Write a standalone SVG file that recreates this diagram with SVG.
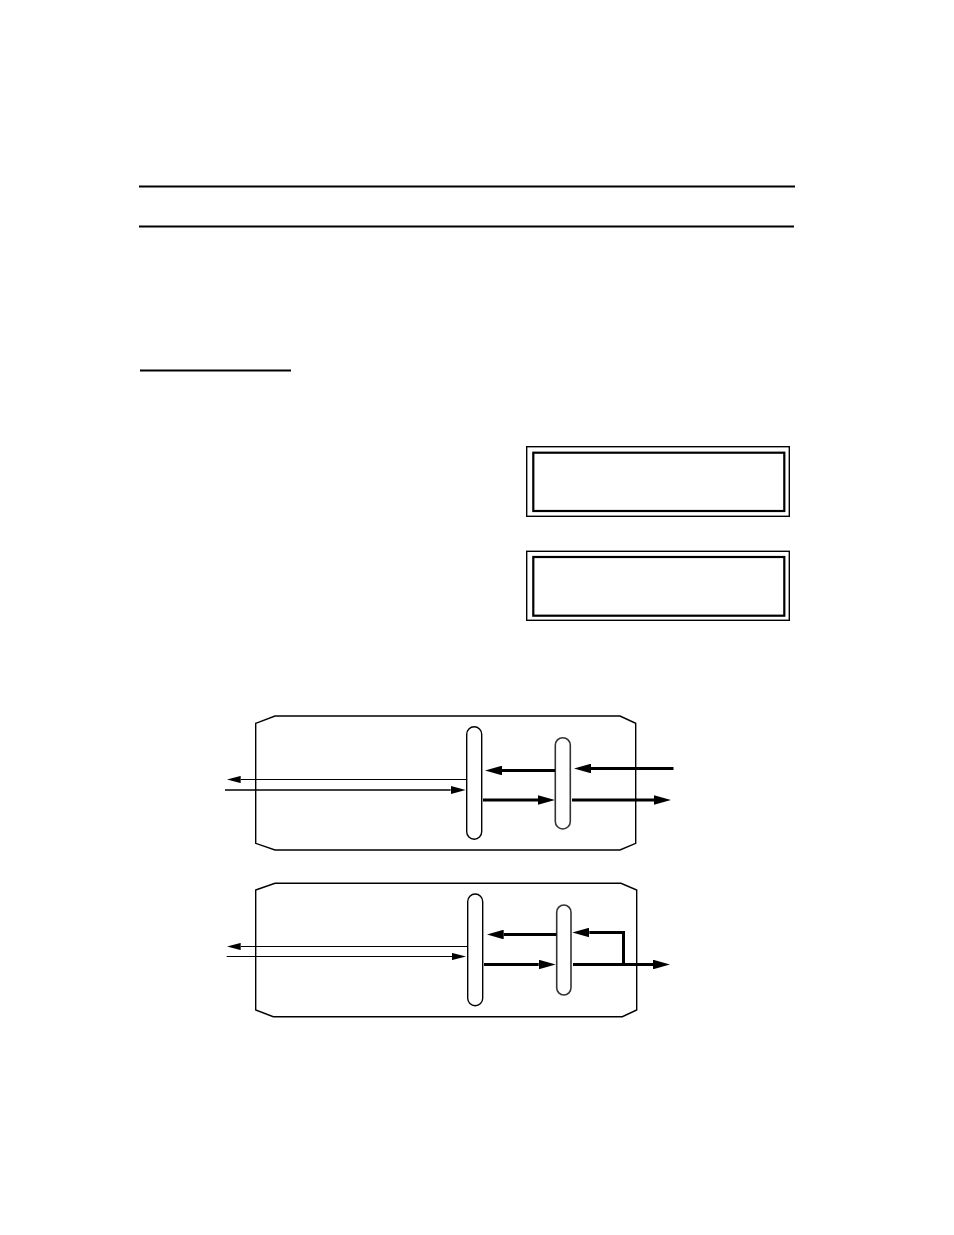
<svg xmlns="http://www.w3.org/2000/svg" width="954" height="1235" viewBox="0 0 954 1235">
<style>
.rule{stroke:#000;stroke-width:2;fill:none}
.outer{fill:none;stroke:#000;stroke-width:1.4}
.inner{fill:none;stroke:#000;stroke-width:2.2}
.shell{fill:#fff;stroke:#000;stroke-width:1.4}
.pill{fill:#fff;stroke:#000;stroke-width:1.4}
.pill2{fill:#fff;stroke:#333;stroke-width:1.6}
.thin{fill:none;stroke:#000;stroke-width:1;marker-end:url(#hThin)}
.med{fill:none;stroke:#000;stroke-width:1.7;marker-end:url(#hMed)}
.thick{fill:none;stroke:#000;stroke-width:3;marker-end:url(#hThick)}
</style>
<defs>
<marker id="hThin" viewBox="0 -3.6 14 7.2" markerWidth="14" markerHeight="7.2" refX="0" refY="0" orient="auto" markerUnits="userSpaceOnUse"><path d="M0,-3.6 L14,0 L0,3.6 Z" fill="#000"/></marker>
<marker id="hMed" viewBox="0 -4 15 8" markerWidth="15" markerHeight="8" refX="0" refY="0" orient="auto" markerUnits="userSpaceOnUse"><path d="M0,-4 L15,0 L0,4 Z" fill="#000"/></marker>
<marker id="hThick" viewBox="0 -4.8 17 9.6" markerWidth="17" markerHeight="9.6" refX="0" refY="0" orient="auto" markerUnits="userSpaceOnUse"><path d="M0,-4.8 L17,0 L0,4.8 Z" fill="#000"/></marker>
</defs>
<rect width="954" height="1235" fill="#fff"/>
<g id="rules">
<line class="rule" x1="139" y1="186.5" x2="795" y2="186.5"/>
<line class="rule" x1="139" y1="226.5" x2="794" y2="226.5"/>
<line class="rule" x1="140" y1="370.5" x2="291" y2="370.5"/>
</g>
<g id="box1">
<rect class="outer" x="526.7" y="446.7" width="262.6" height="69.6"/>
<rect class="inner" x="533.3" y="452.7" width="251" height="58.3"/>
</g>
<g id="box2">
<rect class="outer" x="526.7" y="551.3" width="262.6" height="69"/>
<rect class="inner" x="533.3" y="557" width="251" height="58.7"/>
</g>
<g id="shell1">
<path class="shell" d="M255.7,723.3 L275,716 L620,716 L635.7,723.3 L635.7,843.3 L620,850 L275,850 L255.7,843.3 Z"/>
</g>
<g id="shell2">
<path class="shell" d="M255.7,890 L275,883.3 L621,883.3 L636.7,890 L636.7,1010 L622.3,1016.7 L273.3,1016.7 L255.7,1010 Z"/>
</g>
<g id="plate1a"><rect class="pill" x="466.7" y="726.7" width="15" height="112.6" rx="7.5"/></g>
<g id="plate1b"><rect class="pill2" x="555.3" y="737.7" width="15" height="91.3" rx="7.5"/></g>
<g id="plate2a"><rect class="pill" x="467.7" y="894" width="15" height="111.7" rx="7.5"/></g>
<g id="plate2b"><rect class="pill2" x="556.7" y="905" width="14.3" height="90" rx="7.2"/></g>
<g id="connectors">
<path class="thin" d="M466.5,779.5 H240.7"/>
<path class="med" d="M225,790 H450.7"/>
<path class="thick" d="M555,770.5 H502"/>
<path class="thick" d="M673.5,768.5 H591"/>
<path class="thick" d="M483,800 H538"/>
<path class="thick" d="M572,800 H654"/>
<path class="thin" d="M467.5,946.5 H240.7"/>
<path class="thin" d="M226.7,956.5 H452"/>
<path class="thick" d="M556.5,934.5 H503.7"/>
<path class="thick" d="M623.5,964.5 V932.5 H589.3"/>
<path class="thick" d="M484,964.5 H538.7"/>
<path class="thick" d="M573,964.5 H653"/>
</g>
</svg>
